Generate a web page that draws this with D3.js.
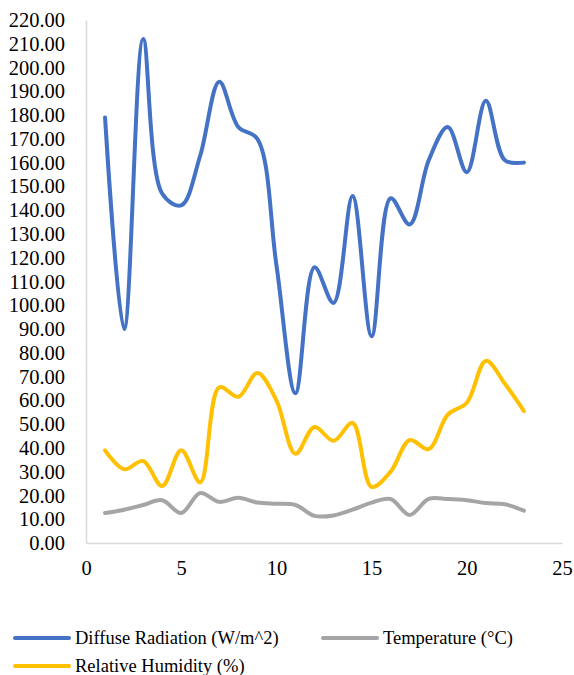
<!DOCTYPE html>
<html>
<head>
<meta charset="utf-8">
<script src="https://cdn.jsdelivr.net/npm/d3@7"></script>
<style>
  html, body { margin: 0; padding: 0; background: #fff; }
  svg { display: block; }
</style>
</head>
<body>
<svg id="chart" width="574" height="675"></svg>
<script>
// Hours of the day (x values)
const hours = [1,2,3,4,5,6,7,8,9,10,11,12,13,14,15,16,17,18,19,20,21,22,23];

// Diffuse radiation (W/m^2)
const diffuseRadiation = [179,90,212,147,142,163,194,175,170,117,63,116,101,146,87,145,134,161,175,156,186,161,160];

// Temperature (°C)
const temperature = [12.6,14,16,18,12.6,21,17.3,19,17,16.5,16,11.4,11.6,14,17,18.5,11.8,18.6,18.5,18,16.8,16.3,13.6];

// Relative humidity (%)
const relativeHumidity = [39,31,34.5,24,39,25.5,65.5,61.5,71.5,60,37.5,48.8,43,50.5,23.6,30,43.3,39.5,54,59,76.6,67,55.5];

// Axis ticks
const yTicks = d3.range(0, 221, 10);
const xTicks = [0,5,10,15,20,25];

const seriesList = [
  { name: "Diffuse Radiation (W/m^2)", values: diffuseRadiation, color: "#4472C4" },
  { name: "Temperature (°C)", values: temperature, color: "#A5A5A5" },
  { name: "Relative Humidity (%)", values: relativeHumidity, color: "#FFC000" }
];

const FONT = '"Liberation Serif", "Times New Roman", serif';

const svg = d3.select("#chart");
const plot = { left: 86, right: 562, top: 20, bottom: 543 };

const x = d3.scaleLinear().domain([0, 25]).range([plot.left, plot.right]);
const y = d3.scaleLinear().domain([0, 220]).range([plot.bottom, plot.top]);

// Y axis
const yAxis = svg.append("g")
  .attr("transform", `translate(${plot.left},0)`)
  .call(d3.axisLeft(y).tickValues(yTicks).tickSize(0).tickPadding(21).tickFormat(d3.format(".2f")));
yAxis.select(".domain").attr("stroke", "#d9d9d9").attr("stroke-width", 1.5);
yAxis.selectAll("text")
  .style("font-family", FONT).style("font-size", "20.5px").attr("fill", "#000");

// X axis
const xAxis = svg.append("g")
  .attr("transform", `translate(0,${plot.bottom})`)
  .call(d3.axisBottom(x).tickValues(xTicks).tickSize(0).tickPadding(17.5).tickFormat(d3.format("d")));
xAxis.select(".domain").attr("stroke", "#d9d9d9").attr("stroke-width", 1.5);
xAxis.selectAll("text")
  .style("font-family", FONT).style("font-size", "20.5px").attr("fill", "#000");

// Smoothed series lines
const line = d3.line()
  .x((d, i) => x(hours[i]))
  .y(d => y(d))
  .curve(d3.curveCatmullRom.alpha(0.5));

svg.append("g").selectAll("path")
  .data(seriesList)
  .join("path")
  .attr("d", s => line(s.values))
  .attr("fill", "none")
  .attr("stroke", s => s.color)
  .attr("stroke-width", 4)
  .attr("stroke-linecap", "round")
  .attr("stroke-linejoin", "round");

// Legend
const legendPos = [
  { lx: 15, ly: 638 },
  { lx: 323, ly: 638 },
  { lx: 15, ly: 666 }
];
const legend = svg.append("g").selectAll("g")
  .data(seriesList)
  .join("g")
  .attr("transform", (s, i) => `translate(${legendPos[i].lx},${legendPos[i].ly})`);
legend.append("line")
  .attr("x1", 0).attr("x2", 54)
  .attr("stroke", s => s.color)
  .attr("stroke-width", 4)
  .attr("stroke-linecap", "round");
legend.append("text")
  .attr("x", 60)
  .attr("y", 6)
  .style("font-family", FONT)
  .style("font-size", "18.5px")
  .attr("fill", "#000")
  .text(s => s.name);
</script>
</body>
</html>
